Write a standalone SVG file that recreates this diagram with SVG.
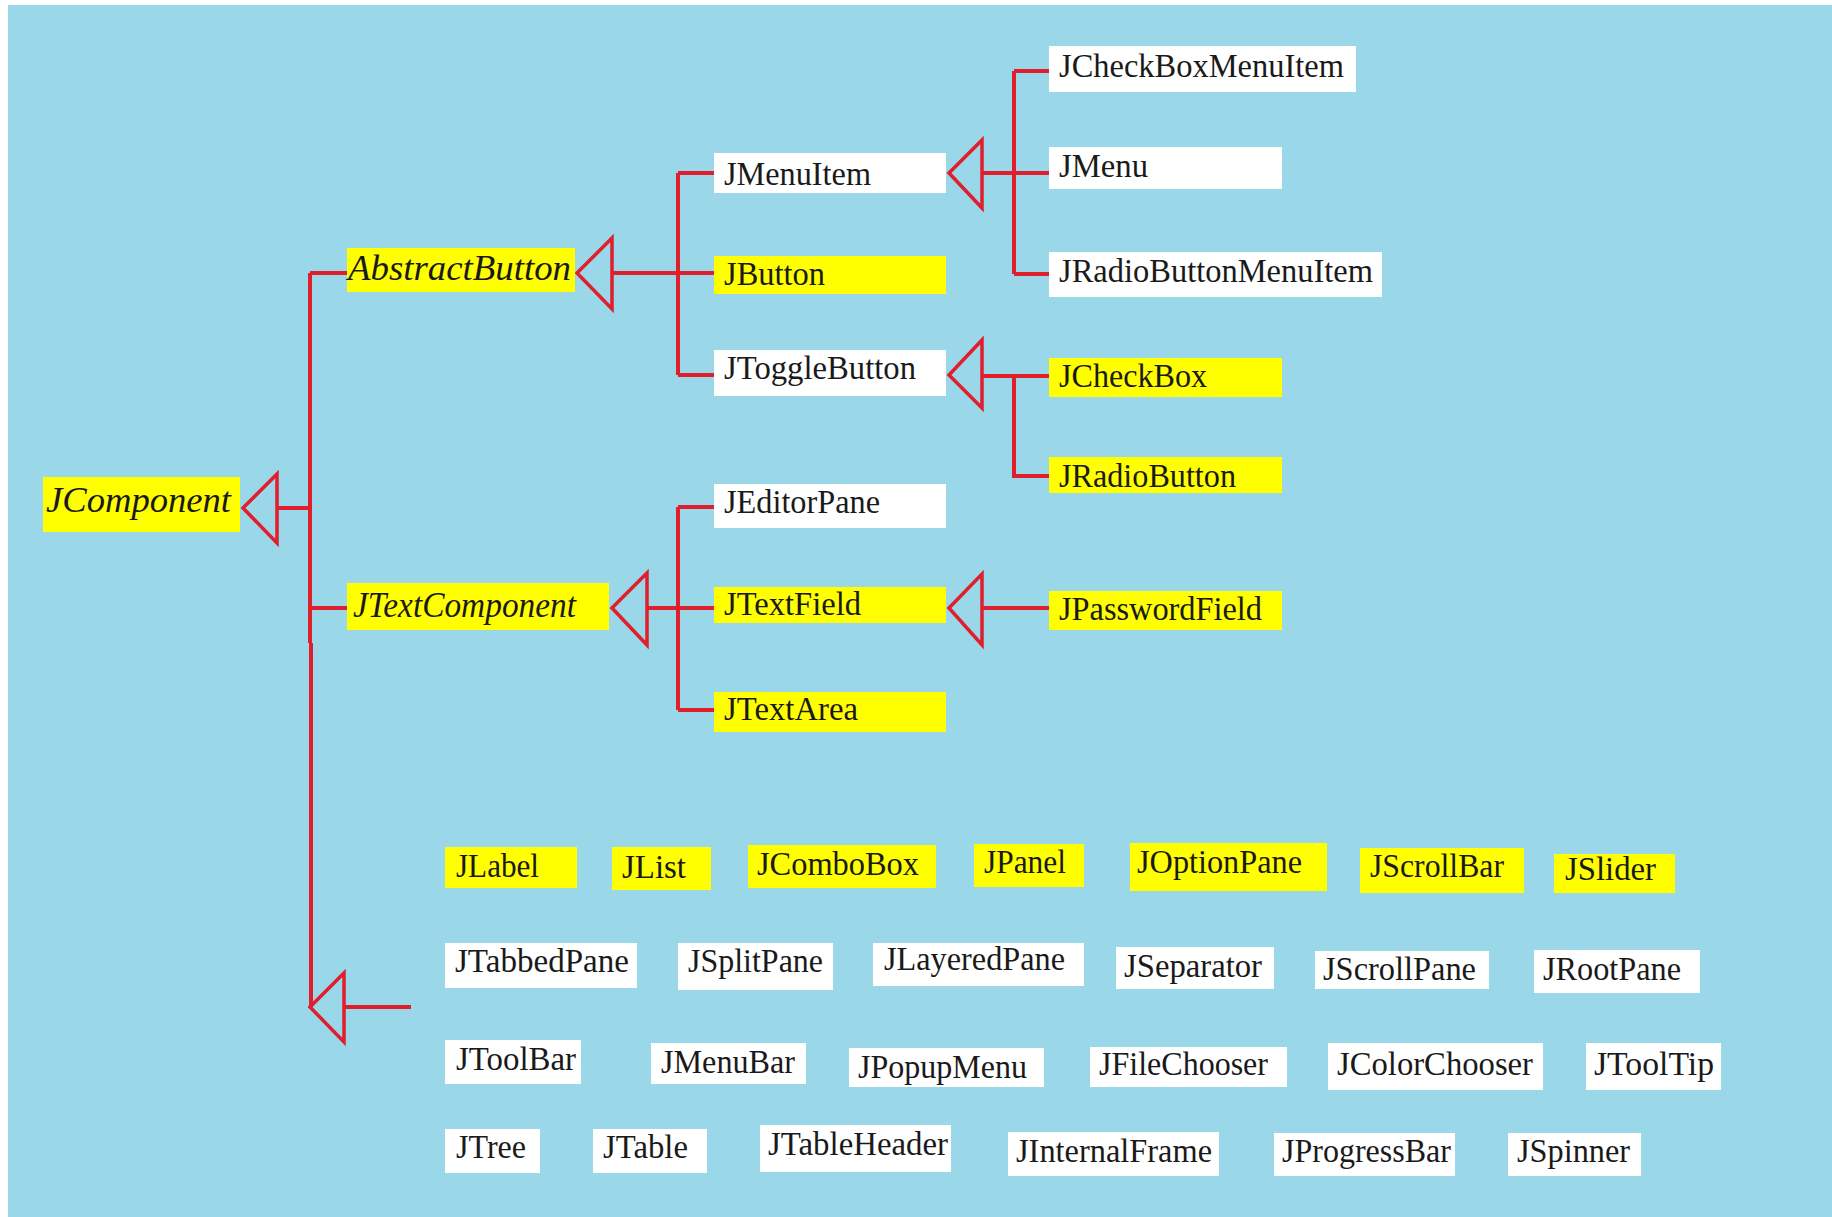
<svg xmlns="http://www.w3.org/2000/svg" width="1832" height="1217" viewBox="0 0 1832 1217">
<style>
.bg{fill:#9AD7E8}
.y{fill:#FFFF00}
.w{fill:#FFFFFF}
.t{font-family:"Liberation Serif","Times New Roman",serif;font-size:34px;fill:#1a1a1a}
.i{font-family:"Liberation Serif","Times New Roman",serif;font-size:35px;font-style:italic;fill:#1a1a1a}
.ln{fill:none;stroke:#E01E2C;stroke-width:4}
.tri{fill:none;stroke:#E01E2C;stroke-width:3.5;stroke-linejoin:miter}
</style>
<rect width="1832" height="1217" fill="#FFFFFF"/>
<rect class="bg" x="8" y="5" width="1824" height="1212"/>

<g id="connectors">
<path class="ln" d="M277,508 H310 M310,273 V643 M311,643 V1007 M310,273 H347 M310,608 H347 M344,1007 H411"/>
<path class="ln" d="M612,273 H678 M678,173 V375 M678,173 H714 M678,273 H714 M678,375 H714"/>
<path class="ln" d="M982,173 H1014 M1014,71 V274 M1014,71 H1049 M1014,173 H1049 M1014,274 H1049"/>
<path class="ln" d="M982,376 H1049 M1014,376 V476 H1049"/>
<path class="ln" d="M647,608 H678 M678,507 V710 M678,507 H714 M678,608 H714 M678,710 H714"/>
<path class="ln" d="M982,608 H1049"/>
<polygon class="tri" points="243,508 277,474 277,543"/>
<polygon class="tri" points="577,273 612,238 612,309"/>
<polygon class="tri" points="949,173 982,140 982,208"/>
<polygon class="tri" points="949,375 982,340 982,408"/>
<polygon class="tri" points="612,608 647,573 647,645"/>
<polygon class="tri" points="949,608 982,574 982,645"/>
<polygon class="tri" points="310,1007 344,973 344,1042"/>
</g>

<g id="JComponent"><rect class="y" x="43" y="477" width="197" height="55"/><text class="i" x="46" y="512" textLength="185" lengthAdjust="spacingAndGlyphs">JComponent</text></g>
<g id="AbstractButton"><rect class="y" x="347" y="248" width="228" height="44"/><text class="i" x="348" y="280" textLength="223" lengthAdjust="spacingAndGlyphs">AbstractButton</text></g>
<g id="JTextComponent"><rect class="y" x="347" y="583" width="262" height="47"/><text class="i" x="353" y="617" textLength="223" lengthAdjust="spacingAndGlyphs">JTextComponent</text></g>

<g id="JMenuItem"><rect class="w" x="714" y="153" width="232" height="40"/><text class="t" x="724" y="185" textLength="147" lengthAdjust="spacingAndGlyphs">JMenuItem</text></g>
<g id="JButton"><rect class="y" x="714" y="256" width="232" height="38"/><text class="t" x="724" y="285" textLength="101" lengthAdjust="spacingAndGlyphs">JButton</text></g>
<g id="JToggleButton"><rect class="w" x="714" y="350" width="232" height="46"/><text class="t" x="724" y="379" textLength="192" lengthAdjust="spacingAndGlyphs">JToggleButton</text></g>
<g id="JEditorPane"><rect class="w" x="714" y="484" width="232" height="44"/><text class="t" x="724" y="513" textLength="156" lengthAdjust="spacingAndGlyphs">JEditorPane</text></g>
<g id="JTextField"><rect class="y" x="714" y="587" width="232" height="36"/><text class="t" x="724" y="615" textLength="137" lengthAdjust="spacingAndGlyphs">JTextField</text></g>
<g id="JTextArea"><rect class="y" x="714" y="692" width="232" height="40"/><text class="t" x="724" y="720" textLength="134" lengthAdjust="spacingAndGlyphs">JTextArea</text></g>

<g id="JCheckBoxMenuItem"><rect class="w" x="1049" y="46" width="307" height="46"/><text class="t" x="1059" y="77" textLength="285" lengthAdjust="spacingAndGlyphs">JCheckBoxMenuItem</text></g>
<g id="JMenu"><rect class="w" x="1049" y="147" width="233" height="42"/><text class="t" x="1059" y="177" textLength="89" lengthAdjust="spacingAndGlyphs">JMenu</text></g>
<g id="JRadioButtonMenuItem"><rect class="w" x="1049" y="252" width="333" height="45"/><text class="t" x="1059" y="282" textLength="314" lengthAdjust="spacingAndGlyphs">JRadioButtonMenuItem</text></g>
<g id="JCheckBox"><rect class="y" x="1049" y="358" width="233" height="39"/><text class="t" x="1059" y="387" textLength="148" lengthAdjust="spacingAndGlyphs">JCheckBox</text></g>
<g id="JRadioButton"><rect class="y" x="1049" y="457" width="233" height="36"/><text class="t" x="1059" y="487" textLength="177" lengthAdjust="spacingAndGlyphs">JRadioButton</text></g>
<g id="JPasswordField"><rect class="y" x="1049" y="591" width="233" height="39"/><text class="t" x="1059" y="620" textLength="203" lengthAdjust="spacingAndGlyphs">JPasswordField</text></g>

<g id="JLabel"><rect class="y" x="445" y="847" width="132" height="41"/><text class="t" x="456" y="877" textLength="83" lengthAdjust="spacingAndGlyphs">JLabel</text></g>
<g id="JList"><rect class="y" x="612" y="847" width="99" height="43"/><text class="t" x="622" y="878" textLength="64" lengthAdjust="spacingAndGlyphs">JList</text></g>
<g id="JComboBox"><rect class="y" x="748" y="845" width="188" height="43"/><text class="t" x="757" y="875" textLength="162" lengthAdjust="spacingAndGlyphs">JComboBox</text></g>
<g id="JPanel"><rect class="y" x="974" y="844" width="110" height="43"/><text class="t" x="984" y="873" textLength="82" lengthAdjust="spacingAndGlyphs">JPanel</text></g>
<g id="JOptionPane"><rect class="y" x="1130" y="843" width="197" height="48"/><text class="t" x="1137" y="873" textLength="165" lengthAdjust="spacingAndGlyphs">JOptionPane</text></g>
<g id="JScrollBar"><rect class="y" x="1360" y="848" width="164" height="45"/><text class="t" x="1370" y="877" textLength="134" lengthAdjust="spacingAndGlyphs">JScrollBar</text></g>
<g id="JSlider"><rect class="y" x="1554" y="854" width="121" height="39"/><text class="t" x="1565" y="880" textLength="91" lengthAdjust="spacingAndGlyphs">JSlider</text></g>

<g id="JTabbedPane"><rect class="w" x="445" y="943" width="192" height="45"/><text class="t" x="455" y="972" textLength="174" lengthAdjust="spacingAndGlyphs">JTabbedPane</text></g>
<g id="JSplitPane"><rect class="w" x="678" y="943" width="155" height="47"/><text class="t" x="688" y="972" textLength="135" lengthAdjust="spacingAndGlyphs">JSplitPane</text></g>
<g id="JLayeredPane"><rect class="w" x="873" y="943" width="211" height="43"/><text class="t" x="884" y="970" textLength="181" lengthAdjust="spacingAndGlyphs">JLayeredPane</text></g>
<g id="JSeparator"><rect class="w" x="1116" y="947" width="158" height="42"/><text class="t" x="1124" y="977" textLength="138" lengthAdjust="spacingAndGlyphs">JSeparator</text></g>
<g id="JScrollPane"><rect class="w" x="1315" y="951" width="174" height="38"/><text class="t" x="1323" y="980" textLength="153" lengthAdjust="spacingAndGlyphs">JScrollPane</text></g>
<g id="JRootPane"><rect class="w" x="1534" y="950" width="166" height="43"/><text class="t" x="1543" y="980" textLength="138" lengthAdjust="spacingAndGlyphs">JRootPane</text></g>

<g id="JToolBar"><rect class="w" x="445" y="1040" width="136" height="44"/><text class="t" x="456" y="1070" textLength="120" lengthAdjust="spacingAndGlyphs">JToolBar</text></g>
<g id="JMenuBar"><rect class="w" x="651" y="1043" width="155" height="41"/><text class="t" x="661" y="1073" textLength="134" lengthAdjust="spacingAndGlyphs">JMenuBar</text></g>
<g id="JPopupMenu"><rect class="w" x="849" y="1048" width="195" height="39"/><text class="t" x="858" y="1078" textLength="169" lengthAdjust="spacingAndGlyphs">JPopupMenu</text></g>
<g id="JFileChooser"><rect class="w" x="1090" y="1047" width="197" height="40"/><text class="t" x="1099" y="1075" textLength="169" lengthAdjust="spacingAndGlyphs">JFileChooser</text></g>
<g id="JColorChooser"><rect class="w" x="1328" y="1043" width="215" height="47"/><text class="t" x="1337" y="1075" textLength="196" lengthAdjust="spacingAndGlyphs">JColorChooser</text></g>
<g id="JToolTip"><rect class="w" x="1586" y="1043" width="135" height="47"/><text class="t" x="1594" y="1075" textLength="120" lengthAdjust="spacingAndGlyphs">JToolTip</text></g>

<g id="JTree"><rect class="w" x="445" y="1129" width="95" height="44"/><text class="t" x="456" y="1158" textLength="70" lengthAdjust="spacingAndGlyphs">JTree</text></g>
<g id="JTable"><rect class="w" x="593" y="1129" width="114" height="44"/><text class="t" x="603" y="1158" textLength="85" lengthAdjust="spacingAndGlyphs">JTable</text></g>
<g id="JTableHeader"><rect class="w" x="760" y="1125" width="191" height="47"/><text class="t" x="768" y="1155" textLength="180" lengthAdjust="spacingAndGlyphs">JTableHeader</text></g>
<g id="JInternalFrame"><rect class="w" x="1008" y="1132" width="211" height="44"/><text class="t" x="1016" y="1162" textLength="196" lengthAdjust="spacingAndGlyphs">JInternalFrame</text></g>
<g id="JProgressBar"><rect class="w" x="1274" y="1133" width="181" height="43"/><text class="t" x="1282" y="1162" textLength="169" lengthAdjust="spacingAndGlyphs">JProgressBar</text></g>
<g id="JSpinner"><rect class="w" x="1508" y="1133" width="133" height="43"/><text class="t" x="1517" y="1162" textLength="113" lengthAdjust="spacingAndGlyphs">JSpinner</text></g>
</svg>
